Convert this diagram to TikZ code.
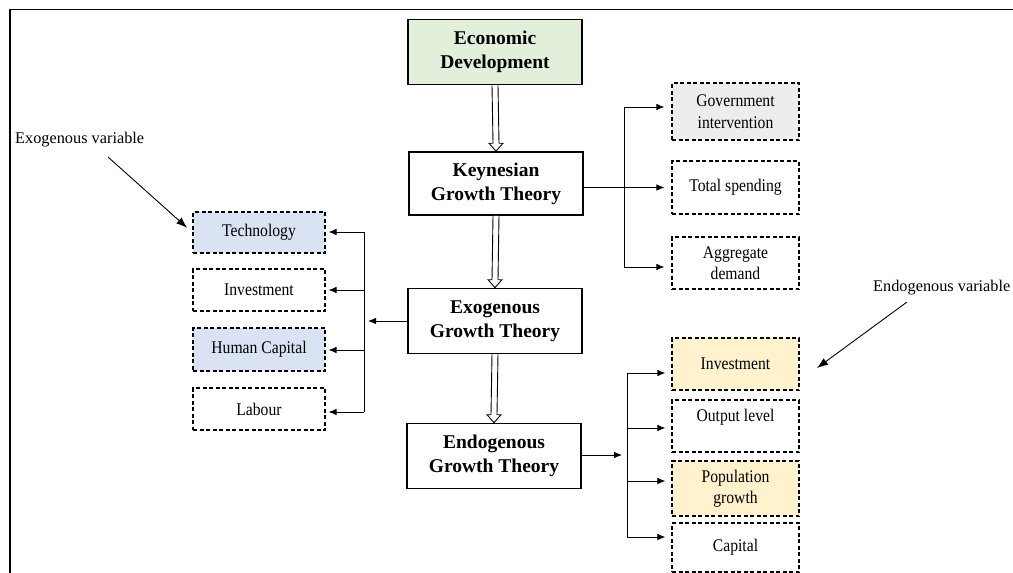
\documentclass[tikz,border=0pt]{standalone}
\usepackage{fontspec}
\setmainfont{Liberation Serif}
\newfontfamily\boxfont{Liberation Serif}[FakeStretch=0.88]
\usetikzlibrary{arrows.meta,calc}
\definecolor{ecogreen}{HTML}{E2EFDA}
\definecolor{govgray}{HTML}{EDEDED}
\definecolor{exoblue}{HTML}{DAE3F3}
\definecolor{endoyellow}{HTML}{FFF2CC}

% hollow block arrow pointing down from one box to the next
\newcommand{\hollowdown}[2]{%
  \draw[line width=0.9pt, fill=white]
    ($(#1.south)+(-3,0)$) -- ($(#2.north)+(-3,-8)$) -- ($(#2.north)+(-7,-8)$)
    -- (#2.north) -- ($(#2.north)+(7,-8)$) -- ($(#2.north)+(3,-8)$)
    -- ($(#1.south)+(3,0)$);}

\begin{document}
\begin{tikzpicture}[x=1pt,y=-1pt,
  mainbox/.style={draw, line width=1.6pt, minimum width=174pt, minimum height=65pt,
    align=center, inner sep=2pt, font=\bfseries\fontsize{19.5}{24}\selectfont},
  varbox/.style={draw, dash pattern=on 4pt off 2.5pt, line width=1.2pt,
    minimum width=127pt, align=center, inner sep=2pt, font=\boxfont\fontsize{17.8}{21.5}\selectfont},
  link/.style={line width=0.8pt, -{Latex[length=8pt,width=6.5pt]}},
  plain/.style={line width=0.8pt},
  note/.style={font=\fontsize{16.3}{20}\selectfont, inner sep=0pt},
  pointer/.style={line width=0.9pt, -{Latex[length=11pt,width=8pt]}}]

\useasboundingbox (0,0) rectangle (1013,573);
\draw[line width=1.5pt] (10,573) -- (10,9.5) -- (1013,9.5);

% central chain of theories
\node[mainbox, fill=ecogreen] (eco) at (495,52) {Economic\\Development};
\node[mainbox, minimum height=63pt] (key) at (496,183.5) {Keynesian\\Growth Theory};
\node[mainbox] (exo) at (495,321) {Exogenous\\Growth Theory};
\node[mainbox] (endo) at (494,456) {Endogenous\\Growth Theory};

\hollowdown{eco}{key}
\hollowdown{key}{exo}
\hollowdown{exo}{endo}

% Keynesian branch
\node[varbox, fill=govgray, minimum height=57pt] (gov) at (735.5,111.5) {Government\\intervention};
\node[varbox, minimum height=53pt] (tot) at (735.5,187.5) {Total spending};
\node[varbox, minimum height=52pt] (agg) at (735.5,263) {Aggregate\\demand};

\coordinate (ktop) at (624,107);
\coordinate (kbot) at (624,267);
\draw[plain] (ktop) -- (kbot);
\draw[link, shorten >=7pt] (key.east |- tot.west) -- (tot.west);
\draw[link, shorten >=7pt] (ktop) -- (ktop -| gov.west);
\draw[link, shorten >=7pt] (kbot) -- (kbot -| agg.west);

% Exogenous branch
\node[varbox, fill=exoblue, minimum width=132pt, minimum height=41pt] (tech) at (259,232.5) {Technology};
\node[varbox, minimum width=132pt, minimum height=42pt] (inv1) at (259,290) {Investment};
\node[varbox, fill=exoblue, minimum width=132pt, minimum height=43pt] (hum) at (259,349.5) {Human Capital};
\node[varbox, minimum width=132pt, minimum height=42pt] (lab) at (259,409) {Labour};

\coordinate (xtop) at (364,232);
\coordinate (xinv) at (364,290);
\coordinate (xhum) at (364,350);
\coordinate (xbot) at (364,412);
\coordinate (xjoin) at (368,321);
\draw[plain] (xtop) -- (xbot);
\draw[link, shorten >=3pt] (xtop) -- (xtop -| tech.east);
\draw[link, shorten >=3pt] (xinv) -- (xinv -| inv1.east);
\draw[link, shorten >=3pt] (xhum) -- (xhum -| hum.east);
\draw[link, shorten >=3pt] (xbot) -- (xbot -| lab.east);
\draw[link] (exo.west |- xjoin) -- (xjoin);

% Endogenous branch
\node[varbox, fill=endoyellow, minimum height=52pt] (inv2) at (735.5,364) {Investment};
\node[varbox, minimum height=52pt] (out) at (735.5,426) {Output level\\\phantom{l}};
\node[varbox, fill=endoyellow, minimum height=55pt] (pop) at (735.5,488.5) {Population\\growth};
\node[varbox, minimum height=49pt] (cap) at (735.5,547.5) {Capital};

\coordinate (etop) at (627,373);
\coordinate (eout) at (627,428);
\coordinate (epop) at (627,481);
\coordinate (ebot) at (627,537);
\coordinate (ejoin) at (622,455);
\draw[plain] (etop) -- (ebot);
\draw[link, shorten >=6pt] (etop) -- (etop -| inv2.west);
\draw[link, shorten >=6pt] (eout) -- (eout -| out.west);
\draw[link, shorten >=6pt] (epop) -- (epop -| pop.west);
\draw[link, shorten >=6pt] (ebot) -- (ebot -| cap.west);
\draw[link] (endo.east |- ejoin) -- (ejoin);

% variable notes
\node[note, anchor=west] (exolab) at (15,140) {Exogenous variable};
\coordinate (exofrom) at (108,157);
\draw[pointer, shorten >=7pt] (exofrom) -- (tech.west);

\node[note, anchor=west] (endolab) at (873,288) {Endogenous variable};
\coordinate (endofrom) at (907,302);
\coordinate (endotip) at (817,368);
\draw[pointer] (endofrom) -- (endotip);
\end{tikzpicture}
\end{document}
